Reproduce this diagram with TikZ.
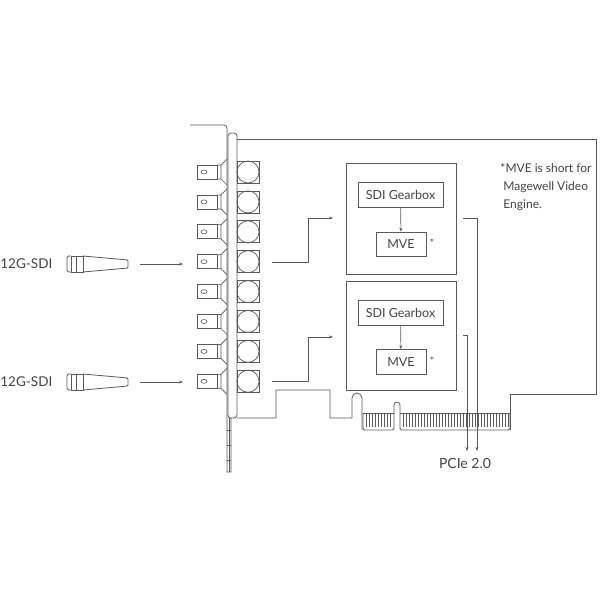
\documentclass[tikz,border=0pt]{standalone}
\usepackage{fontspec}
\setmainfont{Lato}
\usetikzlibrary{arrows.meta}
\definecolor{ln}{HTML}{5A5A5A}
\definecolor{tx}{HTML}{444444}
\begin{document}
\begin{tikzpicture}[x=1pt,y=-1pt,line width=0.8pt,
  every node/.style={text=tx,font=\fontsize{12.5}{14}\selectfont},
  ln/.style={draw=ln},
  box/.style={draw=ln,line width=0.7pt,inner sep=0pt},
  arr/.style={draw=ln,line width=0.6pt,-{Stealth[length=4pt,width=3pt]}}]
\useasboundingbox (0,0) rectangle (600,600);
% bracket
\draw[ln] (190,125) -- (224,125) arc[start angle=-90,end angle=0,radius=3] -- (227,472) -- (231,472) -- (231,418);
\draw[ln,rounded corners=3pt] (228,133) rectangle (237,418);
\draw[ln,line width=0.5pt] (229,418) -- (229,472);
\foreach \y in {430,445,460} \draw[ln,line width=0.5pt] (227,\y) -- (231,\y);
% board outline
\draw[ln] (237,139) -- (596,139) -- (596,394) -- (510,394) -- (510,430);
\draw[ln] (237,418) -- (276,418) -- (276,390) -- (330,390) -- (330,418) -- (352,418) -- (352,398) arc[start angle=180,end angle=360,radius=5] -- (362,430);
% fingers
\draw[ln,rounded corners=1.5pt] (363,413) -- (363,430) -- (394,430) -- (394,413);
\draw[ln] (363,413) -- (394,413);
\draw[ln] (394,413) -- (394,405) arc[start angle=180,end angle=360,radius=3] -- (400,413);
\draw[ln,rounded corners=1.5pt] (400,413) -- (400,430) -- (510,430) -- (510,413);
\draw[ln] (400,413) -- (510,413);
\foreach \x in {366,369,...,392} \draw[ln,line width=0.5pt] (\x,413) -- (\x,427);
\foreach \x in {403,406,...,508} \draw[ln,line width=0.5pt] (\x,413) -- (\x,427);
% connectors
\foreach \i in {0,...,7}{
  \pgfmathsetmacro{\y}{172+29.9*\i}
  \begin{scope}[yshift=-\y pt]
  \draw[ln,line width=0.7pt] (197,-7) rectangle (217,7);
  \draw[ln,line width=0.6pt] (204,0) ellipse (3 and 2);
  \draw[ln,line width=0.7pt] (217,-7) -- (221,-7) -- (227,-13) (217,7) -- (221,7) -- (227,13) (221,-7) -- (221,7);
  \draw[ln,line width=0.7pt] (237,-11) rectangle (259,11);
  \draw[ln,line width=0.7pt] (248,0) circle (11);
  \end{scope}
}
% cables
\foreach \y/\n in {264/a,382/b}{
  \node[anchor=west,inner sep=0pt,font=\fontsize{13.5}{15}\selectfont] (lab\n) at (0,\y) {12G-SDI};
  \draw[ln,line width=0.8pt,rounded corners=1.5pt] (71,\y-8) -- (67,\y-8) -- (67,\y+8) -- (71,\y+8);
  \draw[ln,line width=0.8pt] (71,\y-8) rectangle (83,\y+8) (76,\y-8) -- (76,\y+8);
  \draw[ln,line width=0.8pt,rounded corners=1pt] (83,\y-8) -- (128,\y-4) -- (128,\y+4) -- (83,\y+8);
  \coordinate (cs\n) at (140,\y);
  \coordinate (ce\n) at (183,\y);
  \draw[arr] (cs\n) -- (ce\n);
}
% blocks
\node[box,minimum width=110pt,minimum height=111pt] (o1) at (401,218.5) {};
\node[box,minimum width=110pt,minimum height=109pt] (o2) at (401,335.5) {};
\node[box,minimum width=85pt,minimum height=25pt] (g1) at (400.5,194.5) {SDI Gearbox};
\node[box,minimum width=50pt,minimum height=24pt] (m1) at (401,244) {MVE};
\node[box,minimum width=85pt,minimum height=25pt] (g2) at (400.5,312.5) {SDI Gearbox};
\node[box,minimum width=50pt,minimum height=25pt] (m2) at (401,362) {MVE};
\node[font=\fontsize{10}{10}\selectfont] at (432,243) {*};
\node[font=\fontsize{10}{10}\selectfont] at (432,361) {*};
\draw[arr] (g1) -- (m1);
\draw[arr] (g2) -- (m2);
% inputs
\coordinate (i1) at (272,262); \coordinate (i2) at (272,381);
\draw[arr] (i1) -- (308,262) -- (308,218) -- (333,218);
\draw[arr] (i2) -- (308,381) -- (308,337) -- (333,337);
% outputs
\node[inner sep=0pt,font=\fontsize{14}{15}\selectfont] (pcie) at (465,463) {PCIe 2.0};
\coordinate (q1) at (463,218); \coordinate (q2) at (463,335);
\draw[arr] (q1) -- (477,218) -- (477,451);
\draw[arr] (q2) -- (467,335) -- (467,451);
% note
\node[anchor=north west,align=left,inner sep=0pt,font=\fontsize{12}{18}\selectfont] (note) at (500,163) {*MVE is short for\\\ Magewell Video\\\ Engine.};
\end{tikzpicture}
\end{document}
